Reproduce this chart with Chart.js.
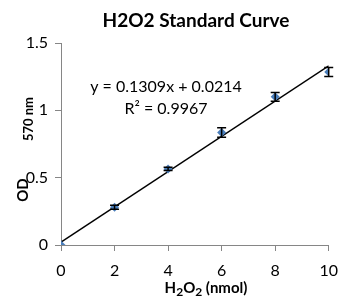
<!DOCTYPE html>
<html>
<head>
<meta charset="utf-8">
<script src="https://cdn.jsdelivr.net/npm/chart.js@4.4.1/dist/chart.umd.min.js"></script>
<style>
  html, body { margin: 0; padding: 0; background: #fff; }
  canvas { display: block; }
</style>
</head>
<body>
<canvas id="chart" width="348" height="296"></canvas>
<script>
// data
const amounts = [0, 2, 4, 6, 8, 10];            // H2O2 (nmol)
const odValues = [0, 0.28, 0.565, 0.835, 1.10, 1.285];
const odErrors = [0, 0.015, 0.012, 0.035, 0.032, 0.033];
const xTicks = [0, 2, 4, 6, 8, 10];
const yTicks = [0, 0.5, 1, 1.5];

// trendline from the printed equation
const slope = 0.1309;
const intercept = 0.0214;
const rSquared = 0.9967;

const FONT = 'Lato, "Open Sans", sans-serif';
const axisGray = '#868686';

// draw a row of [text, size, shift] pieces starting at x
function drawPieces(ctx, pieces, x, y) {
    pieces.forEach(p => {
        ctx.font = 'bold ' + p[1] + 'px ' + FONT;
        ctx.fillText(p[0], x, y + p[2]);
        x += ctx.measureText(p[0]).width;
    });
}
function piecesWidth(ctx, pieces) {
    let w = 0;
    pieces.forEach(p => { ctx.font = 'bold ' + p[1] + 'px ' + FONT; w += ctx.measureText(p[0]).width; });
    return w;
}

// error bars + text overlay
const extras = {
    id: 'extras',
    afterDatasetsDraw(chart) {
        const ctx = chart.ctx;
        const xs = chart.scales.x;
        const ys = chart.scales.y;
        ctx.save();
        ctx.strokeStyle = '#000';
        ctx.lineWidth = 1.5;
        amounts.forEach((a, i) => {
            const e = odErrors[i];
            if (!e) return;
            const px = xs.getPixelForValue(a);
            const top = ys.getPixelForValue(odValues[i] + e);
            const bot = ys.getPixelForValue(odValues[i] - e);
            ctx.beginPath();
            ctx.moveTo(px, top); ctx.lineTo(px, bot);
            ctx.moveTo(px - 4.5, top); ctx.lineTo(px + 4.5, top);
            ctx.moveTo(px - 4.5, bot); ctx.lineTo(px + 4.5, bot);
            ctx.stroke();
        });
        ctx.restore();
    },
    afterDraw(chart) {
        const ctx = chart.ctx;
        ctx.save();
        ctx.fillStyle = '#000';
        ctx.textBaseline = 'alphabetic';

        // title
        ctx.font = 'bold 19px ' + FONT;
        ctx.textAlign = 'center';
        ctx.fillText('H2O2 Standard Curve', 196, 27);

        // equation
        ctx.font = '16px ' + FONT;
        ctx.fillText('y = ' + slope + 'x + ' + intercept, 166, 92);
        ctx.fillText('R² = ' + rSquared, 166, 114);

        // x title with subscripts
        ctx.textAlign = 'left';
        const xt = [['H', 15, 0], ['2', 12, 3], ['O', 15, 0], ['2', 12, 3], [' (nmol)', 15, 0]];
        drawPieces(ctx, xt, 206 - piecesWidth(ctx, xt) / 2, 293);

        // y title, rotated: "OD" and "570 nm" placed apart as in the picture
        ctx.save();
        ctx.translate(28, 190);
        ctx.rotate(-Math.PI / 2);
        const od = [['OD', 15, 0]];
        drawPieces(ctx, od, -piecesWidth(ctx, od) / 2, 0);
        ctx.restore();

        ctx.save();
        ctx.translate(33, 119);
        ctx.rotate(-Math.PI / 2);
        const nm = [['570 nm', 13, 0]];
        drawPieces(ctx, nm, -piecesWidth(ctx, nm) / 2, 0);
        ctx.restore();

        ctx.restore();
    }
};

const points = amounts.map((a, i) => ({x: a, y: odValues[i]}));
const xFirst = amounts[0];
const xLast = amounts[amounts.length - 1];
const fitLine = [
    {x: xFirst, y: slope * xFirst + intercept},
    {x: xLast, y: slope * xLast + intercept}
];

new Chart(document.getElementById('chart'), {
    type: 'scatter',
    data: {
        datasets: [
            {
                label: 'Linear fit',
                type: 'line',
                data: fitLine,
                borderColor: '#000',
                borderWidth: 1.5,
                pointRadius: 0,
                fill: false,
                order: 2
            },
            {
                label: 'OD',
                data: points,
                pointStyle: 'rectRot',
                pointRadius: 4.5,
                backgroundColor: '#4a7ebb',
                borderColor: '#4a7ebb',
                borderWidth: 0,
                order: 1
            }
        ]
    },
    options: {
        responsive: false,
        animation: false,
        devicePixelRatio: 1,
        layout: {padding: {left: 0, top: 43, right: 14, bottom: 0}},
        plugins: {
            legend: {display: false},
            title: {display: false},
            tooltip: {enabled: false}
        },
        scales: {
            x: {
                type: 'linear',
                min: 0,
                max: 10,
                afterBuildTicks: s => { s.ticks = xTicks.map(v => ({value: v})); },
                afterFit: s => { s.height = 51; },
                grid: {drawOnChartArea: false, drawTicks: true, tickLength: 6, color: axisGray},
                border: {display: true, color: axisGray, width: 1},
                ticks: {color: '#000', font: {family: FONT, size: 16}, padding: 10}
            },
            y: {
                type: 'linear',
                min: 0,
                max: 1.5,
                afterBuildTicks: s => { s.ticks = yTicks.map(v => ({value: v})); },
                afterFit: s => { s.width = 61; },
                grid: {drawOnChartArea: false, drawTicks: true, tickLength: 6, color: axisGray},
                border: {display: true, color: axisGray, width: 1},
                ticks: {
                    color: '#000',
                    font: {family: FONT, size: 16},
                    padding: 7,
                    callback: v => String(v)
                }
            }
        }
    },
    plugins: [extras]
});
</script>
</body>
</html>
